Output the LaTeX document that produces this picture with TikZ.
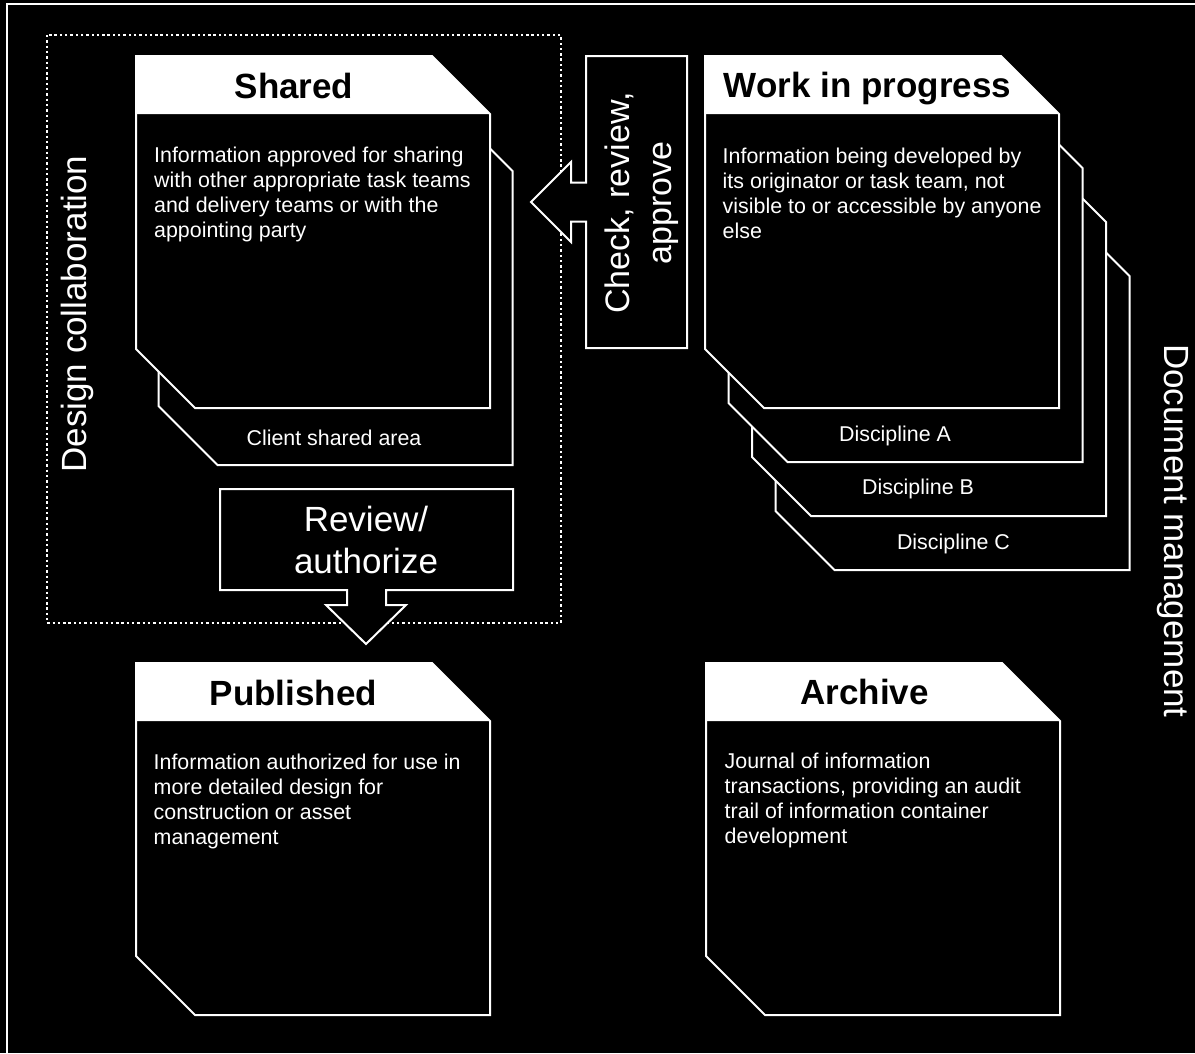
\documentclass[tikz,border=0pt]{standalone}
\usepackage{fontspec}
\setmainfont{Liberation Sans}
\begin{document}
\begin{tikzpicture}[x=1pt,y=-1pt,
  outl/.style={draw=white, line width=2pt, fill=black, line join=miter},
  body/.style={font=\fontsize{21.4pt}{25pt}\selectfont, text=white, align=left, inner sep=0pt, anchor=north west},
  lab/.style={font=\fontsize{21.4pt}{25pt}\selectfont, text=white, inner sep=0pt, anchor=base},
  head/.style={font=\bfseries\fontsize{35pt}{42pt}\selectfont, text=black, inner sep=0pt, anchor=base},
  big/.style={font=\fontsize{35pt}{42pt}\selectfont, text=white, inner sep=0pt},
  docbox/.pic={
    \draw[outl] (0,0) -- (296,0) -- (354,58) -- (354,352) -- (59,352) -- (0,293) -- cycle;
    \fill[white] (0,0) -- (296,0) -- (354,58) -- (0,58) -- cycle;
  },
  backbox/.pic={
    \draw[outl] (0,0) -- (296,0) -- (354,58) -- (354,352) -- (59,352) -- (0,293) -- cycle;
  }
]
\fill[black] (0,0) rectangle (1195,1053);
\useasboundingbox (0,0) rectangle (1195,1053);

% outer frame
\draw[white, line width=2.5pt] (1200,4) -- (7,4) -- (7,1060);

% dotted design collaboration area
\draw[white, line width=2.2pt, dash pattern=on 2.4pt off 2.9pt] (47,35) rectangle (561,623);

% block arrows
\draw[outl] (687,56) -- (586,56) -- (586,182.5) -- (571,182.5) -- (571,162) -- (531,202) -- (571,242) -- (571,221.5) -- (586,221.5) -- (586,348) -- (687,348) -- cycle;
\draw[outl] (220,489) -- (513,489) -- (513,590) -- (386,590) -- (386,605) -- (406,605) -- (366,644) -- (326,605) -- (347,605) -- (347,590) -- (220,590) -- cycle;

% Shared stack
\pic at (158.5,113) {backbox};
\pic at (136,56) {docbox};
% WIP stack
\pic at (775.5,218) {backbox};
\pic at (752,164) {backbox};
\pic at (728.5,110) {backbox};
\pic at (705,56) {docbox};
% Published and Archive
\pic at (136,663) {docbox};
\pic at (706,663) {docbox};

% headers
\node[head] (shT) at (294,98) {Shared};
\node[head] (wipT) at (867.5,97) {Work in progress};
\node[head] (pubT) at (293.5,705) {Published};
\node[head] (arcT) at (864.5,704) {Archive};

% body texts
\node[body] (shB) at (154,146.5) {Information approved for sharing\\with other appropriate task teams\\and delivery teams or with the\\appointing party};
\node[body] (wipB) at (722.5,148) {Information being developed by\\its originator or task team, not\\visible to or accessible by anyone\\else};
\node[body] (pubB) at (153.5,754) {Information authorized for use in\\more detailed design for\\construction or asset\\management};
\node[body] (arcB) at (724.5,753) {Journal of information\\transactions, providing an audit\\trail of information container\\development};

% strip labels
\node[lab] (csa) at (334,445) {Client shared area};
\node[lab] (dA) at (895,441) {Discipline A};
\node[lab] (dB) at (918,494) {Discipline B};
\node[lab] (dC) at (953.5,549) {Discipline C};

% arrow labels
\node[big, font=\fontsize{34pt}{42pt}\selectfont, rotate=90, anchor=north, align=center] (chk) at (605,203) {Check, review,\\approve};
\node[big, anchor=north, align=center] (rev) at (366,506) {Review/\\authorize};

% side labels
\node[big, rotate=90, anchor=north] (dc) at (61,314) {Design collaboration};
\node[big, rotate=-90, anchor=north] (dm) at (1189,531) {Document management};
\end{tikzpicture}
\end{document}
